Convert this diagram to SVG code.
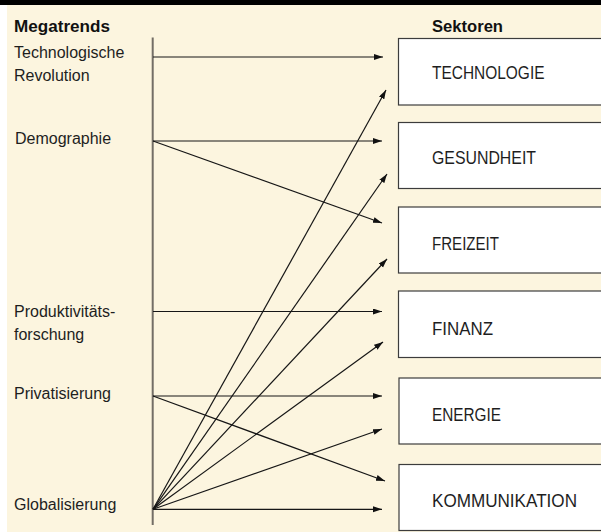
<svg xmlns="http://www.w3.org/2000/svg" width="601" height="532" viewBox="0 0 601 532">
  <defs>
    <marker id="ah" markerUnits="userSpaceOnUse" markerWidth="10" markerHeight="7" refX="9" refY="3" orient="auto">
      <path d="M0,0 L9,3 L0,6 z" fill="#111"/>
    </marker>
    <style>
      .lbl { font-family: "Liberation Sans", Arial, sans-serif; font-size: 16px; fill: #1e1e1e; }
      .hdr { font-family: "Liberation Sans", Arial, sans-serif; font-size: 17px; font-weight: bold; fill: #111; }
      .box { fill: #ffffff; stroke: #3c3c3c; stroke-width: 1.2; }
      .btx { font-family: "Liberation Sans", Arial, sans-serif; font-size: 18px; fill: #1e1e1e; }
      .con { stroke: #161616; stroke-width: 1.2; fill: none; marker-end: url(#ah); }
    </style>
  </defs>
  <rect x="0" y="0" width="601" height="532" fill="#ffffff"/>
  <rect x="7" y="5" width="594" height="527" fill="#fcf5df"/>
  <rect x="0" y="0" width="601" height="5" fill="#000000"/>

  <g id="headers">
    <text class="hdr" x="14" y="32" textLength="96" lengthAdjust="spacingAndGlyphs">Megatrends</text>
    <text class="hdr" x="432" y="32" textLength="71" lengthAdjust="spacingAndGlyphs">Sektoren</text>
  </g>

  <g id="megatrends">
    <line x1="152.7" y1="37.5" x2="152.7" y2="525" stroke="#736e66" stroke-width="2"/>
    <g id="mt-tech">
      <text class="lbl" x="14" y="57.5">Technologische</text>
      <text class="lbl" x="14" y="81">Revolution</text>
    </g>
    <g id="mt-demo"><text class="lbl" x="15" y="143.5">Demographie</text></g>
    <g id="mt-prod">
      <text class="lbl" x="14" y="317">Produktivitäts-</text>
      <text class="lbl" x="14" y="340">forschung</text>
    </g>
    <g id="mt-priv"><text class="lbl" x="14" y="399">Privatisierung</text></g>
    <g id="mt-glob"><text class="lbl" x="14" y="510">Globalisierung</text></g>
  </g>

  <g id="sektor-technologie">
    <rect class="box" x="398.5" y="38.5" width="220" height="66.5"/>
    <text class="btx" x="432" y="78.5" textLength="112.5" lengthAdjust="spacingAndGlyphs">TECHNOLOGIE</text>
  </g>
  <g id="sektor-gesundheit">
    <rect class="box" x="398.5" y="122.5" width="220" height="66"/>
    <text class="btx" x="432" y="164" textLength="104" lengthAdjust="spacingAndGlyphs">GESUNDHEIT</text>
  </g>
  <g id="sektor-freizeit">
    <rect class="box" x="398.5" y="207" width="220" height="66"/>
    <text class="btx" x="432" y="250" textLength="67" lengthAdjust="spacingAndGlyphs">FREIZEIT</text>
  </g>
  <g id="sektor-finanz">
    <rect class="box" x="398.5" y="291" width="220" height="66.5"/>
    <text class="btx" x="432" y="335" textLength="61" lengthAdjust="spacingAndGlyphs">FINANZ</text>
  </g>
  <g id="sektor-energie">
    <rect class="box" x="399" y="378" width="220" height="66"/>
    <text class="btx" x="432" y="420.5" textLength="69" lengthAdjust="spacingAndGlyphs">ENERGIE</text>
  </g>
  <g id="sektor-kommunikation">
    <rect class="box" x="399" y="464.5" width="220" height="66"/>
    <text class="btx" x="432" y="506.5" textLength="145" lengthAdjust="spacingAndGlyphs">KOMMUNIKATION</text>
  </g>

  <g id="connectors">
    <line class="con" x1="153" y1="57" x2="383" y2="57"/>
    <line class="con" x1="153" y1="141" x2="382" y2="141"/>
    <line class="con" x1="153" y1="141" x2="382" y2="223"/>
    <line class="con" x1="153" y1="311.5" x2="382" y2="311.5"/>
    <line class="con" x1="153" y1="396" x2="382" y2="396"/>
    <line class="con" x1="153" y1="396" x2="385" y2="481"/>
    <line class="con" x1="153" y1="509.3" x2="382" y2="509.3"/>
    <line class="con" x1="153" y1="509.3" x2="386" y2="90"/>
    <line class="con" x1="153" y1="509.3" x2="387" y2="174"/>
    <line class="con" x1="153" y1="509.3" x2="387" y2="259"/>
    <line class="con" x1="153" y1="509.3" x2="383" y2="342"/>
    <line class="con" x1="153" y1="509.3" x2="382" y2="429"/>
  </g>
</svg>
